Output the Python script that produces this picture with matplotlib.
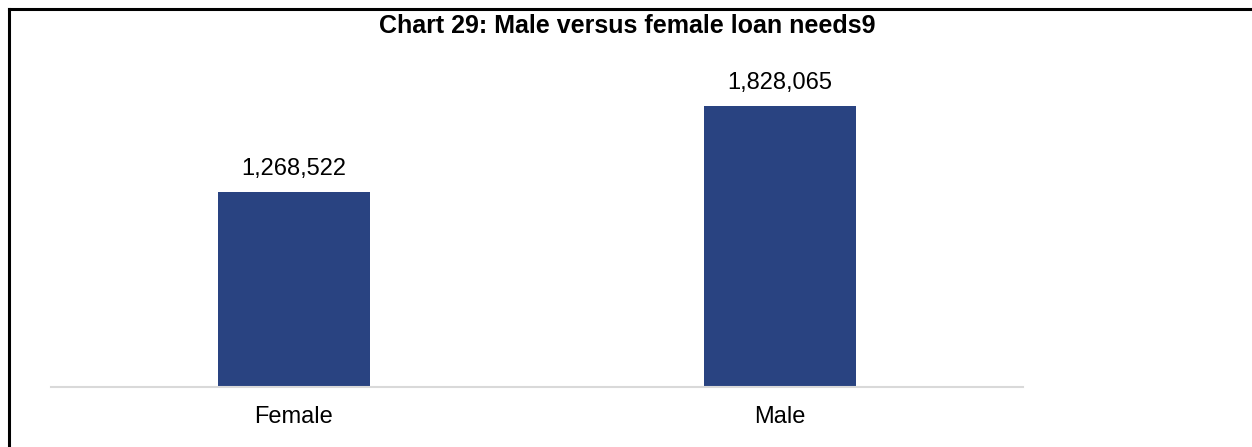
import matplotlib
matplotlib.use("Agg")
import matplotlib.pyplot as plt
from matplotlib.lines import Line2D

categories = ["Female", "Male"]
values = [1268522, 1828065]
title = "Chart 29: Male versus female loan needs9"

plt.rcParams['font.family'] = ['Liberation Sans', 'DejaVu Sans']

W, H = 1252, 447
fig = plt.figure(figsize=(W / 100, H / 100), dpi=100)

# axes: x from 51 to 1023 px, bottom at 387 px from top, ylim 0..2e6
ax_left = 51 / W
ax_width = (1023 - 51) / W
ax_bottom = 1 - 387 / H
ymax = 2_000_000
px_per_unit = 281 / values[1]
ax_height_px = ymax * px_per_unit
ax = fig.add_axes([ax_left, ax_bottom, ax_width, ax_height_px / H])

x = range(len(categories))
bars = ax.bar(x, values, width=0.313, color='#294381', zorder=2)
ax.set_xlim(-0.5, 1.5)
ax.set_ylim(0, ymax)

for spine in ['top', 'right', 'left']:
    ax.spines[spine].set_visible(False)
ax.spines['bottom'].set_color('#d9d9d9')
ax.spines['bottom'].set_linewidth(1.5)
ax.set_yticks([])
ax.set_xticks(list(x))
ax.set_xticklabels(categories, fontsize=17)
ax.tick_params(axis='x', length=0, pad=13.5)

for xi, v in zip(x, values):
    ax.annotate(f"{v:,}", (xi, v), xytext=(0, 12), textcoords='offset points',
                ha='center', va='baseline', fontsize=17)

fig.text(627 / W, 1 - 33 / H, title, ha='center', va='baseline',
         fontsize=18, fontweight='bold')

# border (left and top)
fig.add_artist(Line2D([8.5 / W, 8.5 / W], [0, 1 - 9 / H], transform=fig.transFigure,
                      color='black', linewidth=2.2))
fig.add_artist(Line2D([8.5 / W, 1], [1 - 9 / H, 1 - 9 / H], transform=fig.transFigure,
                      color='black', linewidth=2.2))

fig.savefig("out.png", dpi=100)
